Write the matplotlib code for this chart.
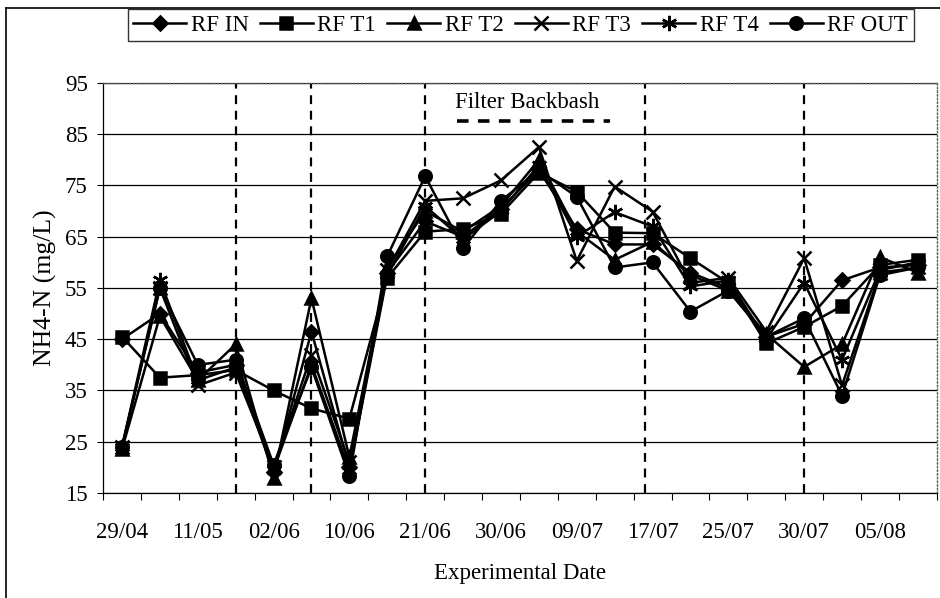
import matplotlib
matplotlib.use("Agg")
import matplotlib.pyplot as plt
from matplotlib.lines import Line2D

plt.rcParams['font.family'] = ['Liberation Serif', 'DejaVu Serif']

# 22 sampling days, only every other one is labelled on the axis
dates = ["29/04", "", "11/05", "", "02/06", "", "10/06", "", "21/06", "", "30/06", "",
         "09/07", "", "17/07", "", "25/07", "", "30/07", "", "05/08", ""]

rf_in  = [45.0, 50.0, 38.5, 40.0, 19.0, 46.5, 20.0, 58.0, 68.0, 65.0, 70.5, 78.0,
          66.5, 63.5, 63.5, 58.0, 55.0, 45.5, 48.0, 56.5, 59.0, 59.5]
rf_t1  = [45.5, 37.5, 38.0, 39.0, 35.0, 31.5, 29.5, 57.0, 66.0, 66.5, 69.5, 77.5,
          73.8, 65.8, 65.7, 60.8, 56.0, 44.2, 47.4, 51.5, 59.5, 60.5]
rf_t2  = [23.5, 49.5, 37.0, 44.0, 18.0, 53.0, 22.0, 59.0, 70.0, 66.0, 71.0, 80.0,
          66.0, 60.5, 64.0, 57.5, 54.5, 46.0, 39.6, 44.0, 61.0, 58.0]
rf_t3  = [24.0, 55.0, 36.0, 38.5, 20.0, 42.0, 21.0, 58.5, 72.0, 72.5, 76.0, 82.5,
          60.3, 74.8, 69.9, 56.0, 57.0, 46.5, 60.8, 36.0, 58.0, 59.0]
rf_t4  = [24.0, 56.5, 37.0, 39.5, 19.5, 40.0, 19.5, 57.5, 71.0, 64.5, 70.0, 79.0,
          65.0, 69.8, 67.0, 55.3, 56.5, 45.0, 56.0, 41.0, 58.5, 60.0]
rf_out = [24.0, 55.0, 40.0, 41.0, 20.5, 39.5, 18.3, 61.2, 76.8, 62.8, 72.0, 78.0,
          72.8, 59.0, 60.0, 50.4, 54.5, 45.5, 49.1, 34.0, 57.5, 59.0]

series = [("RF IN", rf_in, "D", 7.5), ("RF T1", rf_t1, "s", 8.5), ("RF T2", rf_t2, "^", 9),
          ("RF T3", rf_t3, "x", 9.5), ("RF T4", rf_t4, (6, 2, 0), 11), ("RF OUT", rf_out, "o", 9)]

backwash_days = [3, 5, 8, 13.8, 18]

fig = plt.figure(figsize=(9.4, 5.98), dpi=100)
ax = fig.add_axes([0.1096, 0.1756, 0.887, 0.6856])

x = list(range(len(dates)))
for name, vals, mk, ms in series:
    ax.plot(x, vals, color="black", lw=1.8, marker=mk, markersize=ms,
            markeredgewidth=1.8, label=name)

for d in backwash_days:
    ax.axvline(d, color="black", lw=1.6, ls=(0, (4, 3)), zorder=1)

ax.set_ylim(15, 95)
ax.set_yticks(range(15, 96, 10))
ax.set_xlim(-0.5, len(dates) - 0.5)
ax.yaxis.grid(True, color="black", lw=0.9)
ax.set_axisbelow(True)

ax.set_xticks(x)
ax.set_xticklabels(dates)
ax.set_xticks([i - 0.5 for i in range(len(dates) + 1)], minor=True)
ax.tick_params(axis="x", which="major", length=0, pad=21, labelsize=16.5)
ax.tick_params(axis="x", which="minor", length=5, width=0.8, direction="out")
ax.tick_params(axis="y", length=4, width=0.8, pad=7, labelsize=16.5)

for s in ["top", "right"]:
    ax.spines[s].set_linestyle(":")
    ax.spines[s].set_color("0.35")
    ax.spines[s].set_linewidth(1.0)
for s in ["left", "bottom"]:
    ax.spines[s].set_linewidth(0.9)

ax.set_xlabel("Experimental Date", fontsize=16.5, labelpad=14)
ax.set_ylabel("NH4-N (mg/L)", fontsize=18.5, labelpad=6)

ax.text(10.7, 91.1, "Filter Backbash", fontsize=16.5, ha="center", va="center")
ax.plot([8.85, 12.88], [87.6, 87.6], color="black", lw=2.6, ls=(0, (3.2, 2.6)),
        solid_capstyle="butt", dash_capstyle="butt")

fig.legend(loc="center", bbox_to_anchor=(0.554, 0.958), ncol=6, fontsize=16.5,
           frameon=True, fancybox=False, edgecolor="black", handlelength=2.3,
           handletextpad=0.2, columnspacing=0.5, borderpad=0.25,
           borderaxespad=0).get_frame().set_linewidth(1.0)

# outer frame of the figure (left and top edges)
fig.add_artist(Line2D([0.006, 0.006], [0.0, 0.987], color="black", lw=1.2,
                      transform=fig.transFigure))
fig.add_artist(Line2D([0.006, 1.0], [0.987, 0.987], color="black", lw=1.2,
                      transform=fig.transFigure))

fig.savefig("out.png", dpi=100)
